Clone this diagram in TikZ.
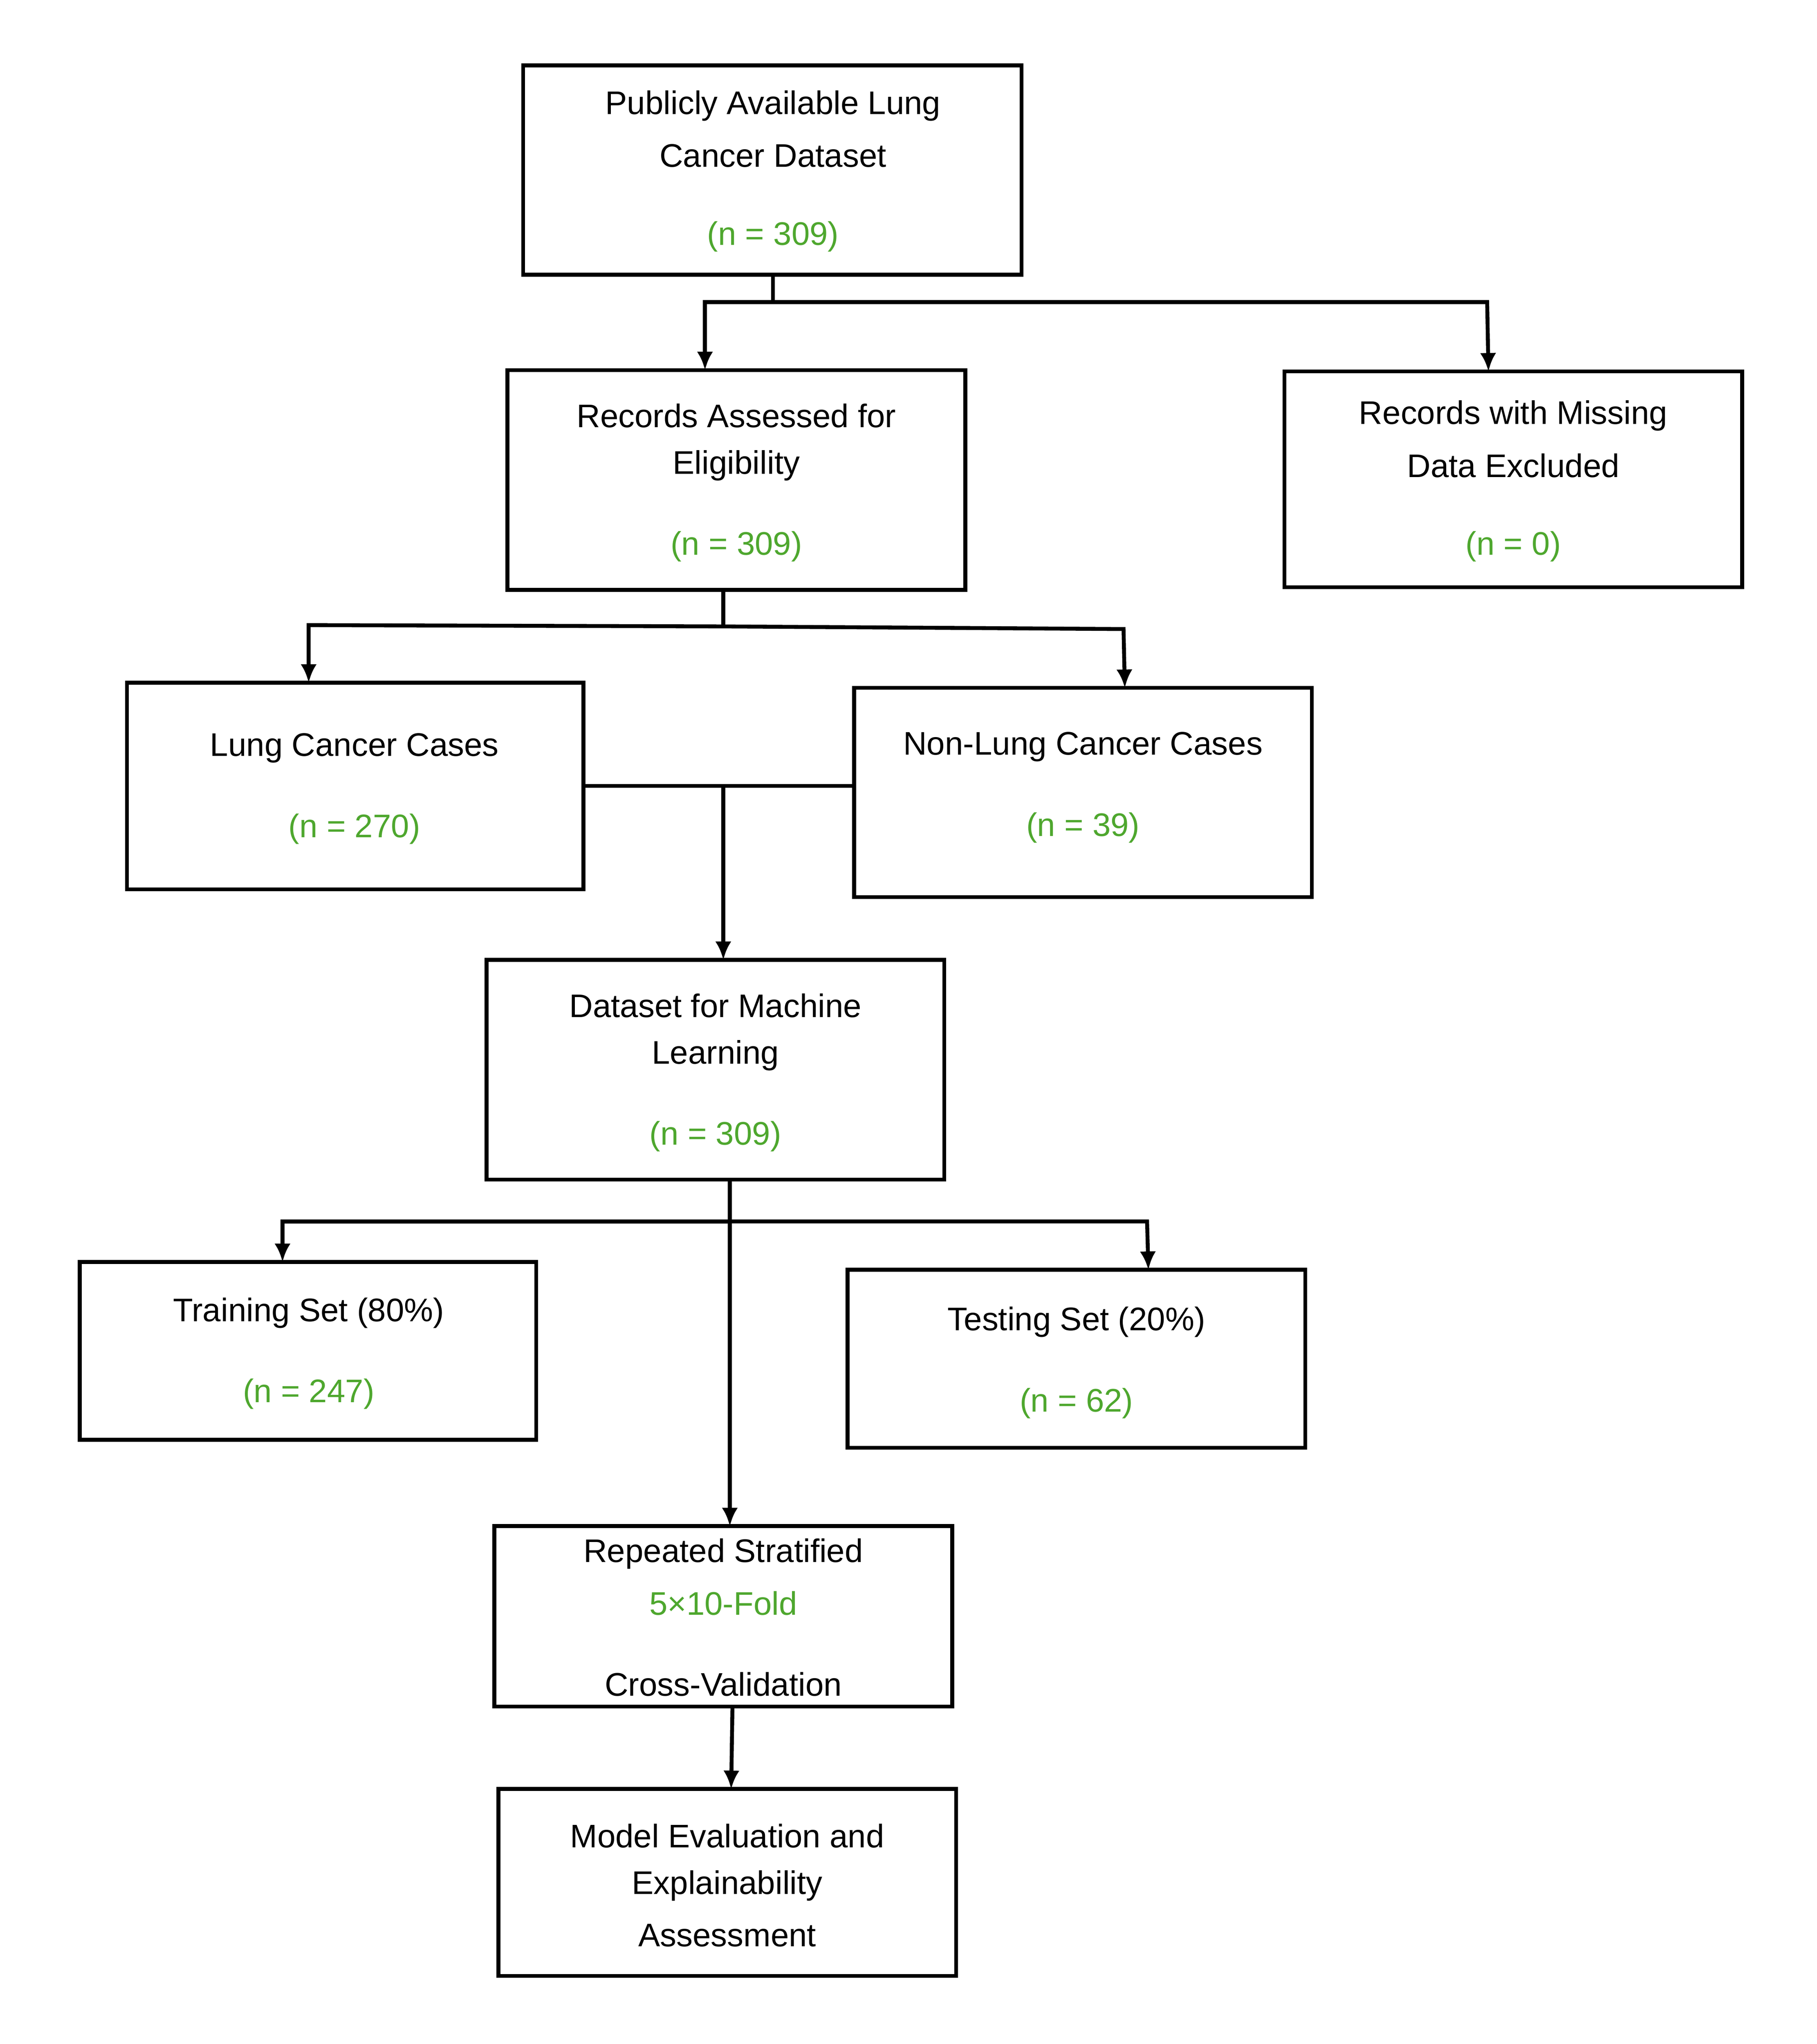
\documentclass[tikz,border=0pt]{standalone}
\usepackage{fontspec}
\setmainfont{Liberation Sans}
\usetikzlibrary{arrows.meta}
\definecolor{grn}{RGB}{78,167,46}
\begin{document}
\begin{tikzpicture}[x=0.01cm,y=-0.01cm,
  box/.style={draw,line width=0.85pt},
  txt/.style={font=\fontsize{7.1}{8}\selectfont,inner sep=0},
  num/.style={txt,text=grn},
  con/.style={line width=0.85pt},
  arr/.style={con,-{Latex[length=4pt,width=3.5pt]}}]
\useasboundingbox (0,0) rectangle (1389,1563);
\draw[box] (400,50) rectangle (781,210); \coordinate (A) at (591,210);
\node[txt] (a1) at (591,81) {Publicly Available Lung};
\node[txt] (a2) at (591,119) {Cancer Dataset};
\node[num] (a3) at (591,181) {(n = 309)};
\draw[box] (388,283) rectangle (738,451);
\node[txt] (b1) at (563,318) {Records Assessed for};
\node[txt] (b2) at (563,356) {Eligibility};
\node[num] (b3) at (563,418) {(n = 309)};
\draw[box] (982,284) rectangle (1332,449);
\node[txt] (c1) at (1157,318) {Records with Missing};
\node[txt] (c2) at (1157,356) {Data Excluded};
\node[num] (c3) at (1157,418) {(n = 0)};
\draw[box] (97,522) rectangle (446,680);
\node[txt] (d1) at (271,572) {Lung Cancer Cases};
\node[num] (d2) at (271,634) {(n = 270)};
\draw[box] (653,526) rectangle (1003,686);
\node[txt] (e1) at (828,571) {Non-Lung Cancer Cases};
\node[num] (e2) at (828,633) {(n = 39)};
\draw[box] (372,734) rectangle (722,902);
\node[txt] (f1) at (547,769) {Dataset for Machine};
\node[txt] (f2) at (547,807) {Learning};
\node[num] (f3) at (547,869) {(n = 309)};
\draw[box] (61,965) rectangle (410,1101);
\node[txt] (g1) at (236,1004) {Training Set (80\%)};
\node[num] (g2) at (236,1066) {(n = 247)};
\draw[box] (648,971) rectangle (998,1107);
\node[txt] (h1) at (823,1011) {Testing Set (20\%)};
\node[num] (h2) at (823,1073) {(n = 62)};
\draw[box] (378,1167) rectangle (728,1305);
\node[txt] (i1) at (553,1188) {Repeated Stratified};
\node[num] (i2) at (553,1226) {5×10-Fold};
\node[txt] (i3) at (553,1288) {Cross-Validation};
\draw[box] (381,1368) rectangle (731,1511);
\node[txt] (j1) at (556,1404) {Model Evaluation and};
\node[txt] (j2) at (556,1442) {Explainability};
\node[txt] (j3) at (556,1480) {Assessment};
% connectors
\coordinate (Bt) at (539,283); \coordinate (Ct) at (1138,284);
\draw[con] (A) -- (591,231) coordinate (a0);
\draw[arr] (a0) -| (Bt);
\draw[arr] (a0) -- (1137,231) -- (Ct);
\coordinate (Bb) at (553,451); \coordinate (Dt) at (236,522); \coordinate (Et) at (860,526);
\draw[con] (Bb) -- (553,479) coordinate (b0);
\draw[arr] (b0) -- (236,478) -- (Dt);
\draw[arr] (b0) -- (859,481) -- (Et);
\coordinate (Dr) at (446,601); \coordinate (El) at (653,601); \coordinate (Ft) at (553,734);
\draw[con] (Dr) -- (El);
\draw[arr] (553,601) -- (Ft);
\coordinate (Fb) at (558,902); \coordinate (It) at (558,1167);
\coordinate (Gt) at (216,965); \coordinate (Ht) at (878,971);
\draw[arr] (Fb) -- (It);
\draw[arr] (558,934) -- (216,934) -- (Gt);
\draw[arr] (558,934) -- (877,934) -- (Ht);
\coordinate (Ib) at (560,1305); \coordinate (Jt) at (559,1368);
\draw[arr] (Ib) -- (Jt);
\end{tikzpicture}
\end{document}
